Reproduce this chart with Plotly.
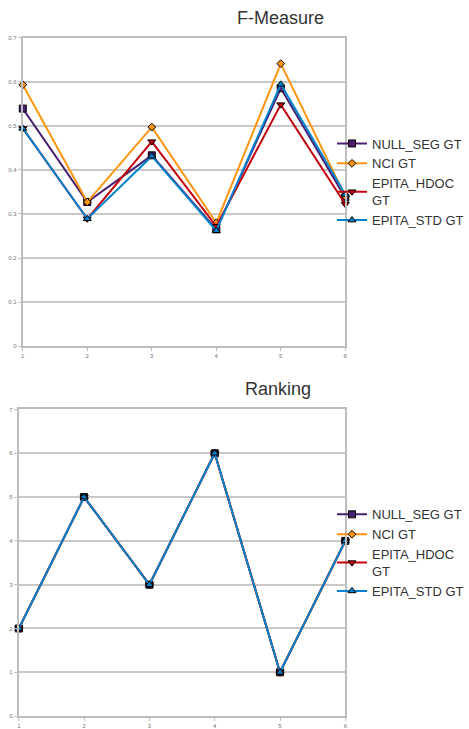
import plotly.graph_objects as go

W, H = 469, 729

x_cats = [1, 2, 3, 4, 5, 6]
series_names = ["NULL_SEG GT", "NCI GT", "EPITA_HDOC<br>GT", "EPITA_STD GT"]

fmeasure_null_seg = [0.539, 0.327, 0.433, 0.265, 0.585, 0.337]
fmeasure_nci = [0.593, 0.327, 0.497, 0.280, 0.641, 0.340]
fmeasure_epita_hdoc = [0.494, 0.289, 0.464, 0.272, 0.548, 0.322]
fmeasure_epita_std = [0.494, 0.289, 0.431, 0.262, 0.594, 0.344]

ranking_null_seg = [2, 5, 3, 6, 1, 4]
ranking_nci = [2, 5, 3, 6, 1, 4]
ranking_epita_hdoc = [2, 5, 3, 6, 1, 4]
ranking_epita_std = [2, 5, 3, 6, 1, 4]

fm_ticks = [0, 0.1, 0.2, 0.3, 0.4, 0.5, 0.6, 0.7]
rk_ticks = [0, 1, 2, 3, 4, 5, 6, 7]

colors = ["#4B1F6F", "#FF950E", "#C5000B", "#0084D1"]
symbols = ["square", "diamond", "triangle-down", "triangle-up"]
sizes = [7, 6, 7, 7]

fig = go.Figure()

fm_data = [fmeasure_null_seg, fmeasure_nci, fmeasure_epita_hdoc, fmeasure_epita_std]
rk_data = [ranking_null_seg, ranking_nci, ranking_epita_hdoc, ranking_epita_std]

for i in range(4):
    fig.add_trace(go.Scatter(
        x=x_cats, y=fm_data[i], name=series_names[i], mode="lines+markers",
        line=dict(color=colors[i], width=2),
        marker=dict(symbol=symbols[i], size=sizes[i], color=colors[i],
                    line=dict(color="#000000", width=1)),
        xaxis="x", yaxis="y", legend="legend", cliponaxis=False))
for i in range(4):
    fig.add_trace(go.Scatter(
        x=x_cats, y=rk_data[i], name=series_names[i], mode="lines+markers",
        line=dict(color=colors[i], width=2),
        marker=dict(symbol=symbols[i], size=sizes[i], color=colors[i],
                    line=dict(color="#000000", width=1)),
        xaxis="x2", yaxis="y2", legend="legend2", cliponaxis=False))

def px_x(p):
    return p / W

def px_y(p):
    return 1 - p / H

axis_common = dict(
    gridcolor="#C8C8C8", gridwidth=1.5,
    showline=True, linecolor="#BDBDBD", linewidth=2, mirror=True,
    ticks="outside", ticklen=3, tickcolor="#BDBDBD",
    tickfont=dict(size=6, color="#777777", family="Liberation Sans, Arial"),
    zeroline=False,
)

fig.update_layout(
    width=W, height=H,
    margin=dict(l=0, r=0, t=0, b=0),
    paper_bgcolor="white", plot_bgcolor="white",
    font=dict(family="Liberation Sans, Arial"),
    xaxis=dict(domain=[px_x(21), px_x(347)], range=[1, 6], tickvals=x_cats,
               anchor="y", showgrid=False, **axis_common),
    yaxis=dict(domain=[px_y(347), px_y(35)], range=[0, 0.7], tickvals=fm_ticks,
               ticktext=[str(t) for t in fm_ticks], anchor="x", showgrid=True, **axis_common),
    xaxis2=dict(domain=[px_x(17), px_x(347)], range=[1, 6], tickvals=x_cats,
                anchor="y2", showgrid=False, **axis_common),
    yaxis2=dict(domain=[px_y(721), px_y(411)], range=[0, 7], tickvals=rk_ticks,
                anchor="x2", showgrid=True, **axis_common),
    legend=dict(x=px_x(334), y=px_y(181), xanchor="left", yanchor="middle",
                font=dict(size=13, color="#333333"), tracegroupgap=0,
                itemwidth=30, bgcolor="rgba(0,0,0,0)"),
    legend2=dict(x=px_x(334), y=px_y(556), xanchor="left", yanchor="middle",
                 font=dict(size=13, color="#333333"), tracegroupgap=0,
                 itemwidth=30, bgcolor="rgba(0,0,0,0)"),
    annotations=[
        dict(text="F-Measure", x=px_x(281), y=px_y(15), xref="paper", yref="paper",
             xanchor="center", yanchor="middle",
             showarrow=False, font=dict(size=18, color="#333333")),
        dict(text="Ranking", x=px_x(279), y=px_y(390), xref="paper", yref="paper",
             xanchor="center", yanchor="middle",
             showarrow=False, font=dict(size=18, color="#333333")),
    ],
    showlegend=True,
)

fig.write_html(
    "out.html",
    config={"displayModeBar": False},
    post_script="document.body.style.margin='0px';document.body.style.padding='0px';document.body.style.overflow='hidden';",
)
